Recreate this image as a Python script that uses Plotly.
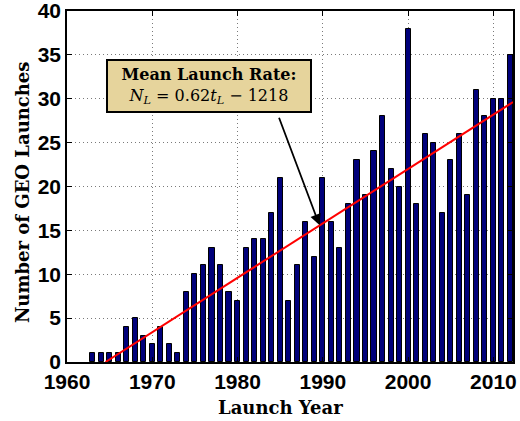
import plotly.graph_objects as go

years = list(range(1963, 2013))
launches = [1, 1, 1, 1, 4, 5, 3, 2, 4, 2, 1, 8, 10, 11, 13, 11, 8, 7, 13, 14,
            14, 17, 21, 7, 11, 16, 12, 21, 16, 13, 18, 23, 19, 24, 28, 22, 20, 38, 18, 26,
            25, 17, 23, 26, 19, 31, 28, 30, 30, 35]

fit_slope = 0.62
fit_intercept = -1218
fit_start = -fit_intercept / fit_slope
fit_end = 2012.3
fit_x = [fit_start, fit_end]
fit_y = [fit_slope * t + fit_intercept for t in fit_x]

x_ticks = [1960, 1970, 1980, 1990, 2000, 2010]
y_ticks = [0, 5, 10, 15, 20, 25, 30, 35, 40]

fig = go.Figure()
fig.add_trace(go.Bar(x=years, y=launches, width=0.6,
                     marker=dict(color="#00007a", line=dict(color="black", width=1)),
                     showlegend=False, hoverinfo="skip"))
fig.add_trace(go.Scatter(x=fit_x, y=fit_y, mode="lines",
                         line=dict(color="#ff0000", width=2), showlegend=False, hoverinfo="skip"))

tickfont = dict(family="Liberation Sans", size=21, color="black")
titlefont = dict(family="DejaVu Serif", size=18, color="black")

axis_common = dict(tickfont=tickfont, showgrid=True, gridcolor="#7a7a7a", griddash="1px,3px",
                   gridwidth=1, showline=True, linecolor="black", linewidth=1.5, mirror="ticks",
                   ticks="inside", ticklen=5, tickcolor="black", zeroline=False,
                   automargin=False, ticklabeloverflow="allow")

fig.update_layout(
    width=520, height=421,
    margin=dict(l=67, r=7, t=11, b=59),
    plot_bgcolor="white", paper_bgcolor="white",
    bargap=0,
    xaxis=dict(range=[1960, 2012.3], tickvals=x_ticks,
               ticktext=[f"<b>{v}</b>" for v in x_ticks], **axis_common),
    yaxis=dict(range=[0, 40], tickvals=y_ticks,
               ticktext=[f"<b>{v}</b>" for v in y_ticks], **axis_common),
)

# axis titles
fig.add_annotation(x=0.4776, y=-0.131, xref="paper", yref="paper", showarrow=False,
                   text="<b>Launch Year</b>", font=titlefont, xanchor="center", yanchor="middle")
fig.add_annotation(x=-0.1009, y=0.484, xref="paper", yref="paper", showarrow=False,
                   text="<b>Number of GEO Launches</b>", font=titlefont, textangle=-90,
                   xanchor="center", yanchor="middle")

# arrow
fig.add_annotation(x=1989.6, y=15.6, ax=1984.8, ay=28.0, xref="x", yref="y",
                   axref="x", ayref="y", text="", showarrow=True,
                   arrowhead=2, arrowsize=1.2, arrowwidth=1.8, arrowcolor="black")
# box
fig.add_annotation(x=1976.7, y=31.5, xref="x", yref="y", showarrow=False,
                   text="<b>Mean Launch Rate:</b><br><i>N</i><sub><i>L</i></sub> = 0.62<i>t</i><sub><i>L</i></sub> − 1218",
                   font=dict(family="DejaVu Serif", size=16, color="black"),
                   bgcolor="#e6d49c", bordercolor="black", borderwidth=2, borderpad=4,
                   width=194, align="center")

fig.write_html("out.html", config={"displayModeBar": False},
               post_script="document.body.style.margin='0';")
